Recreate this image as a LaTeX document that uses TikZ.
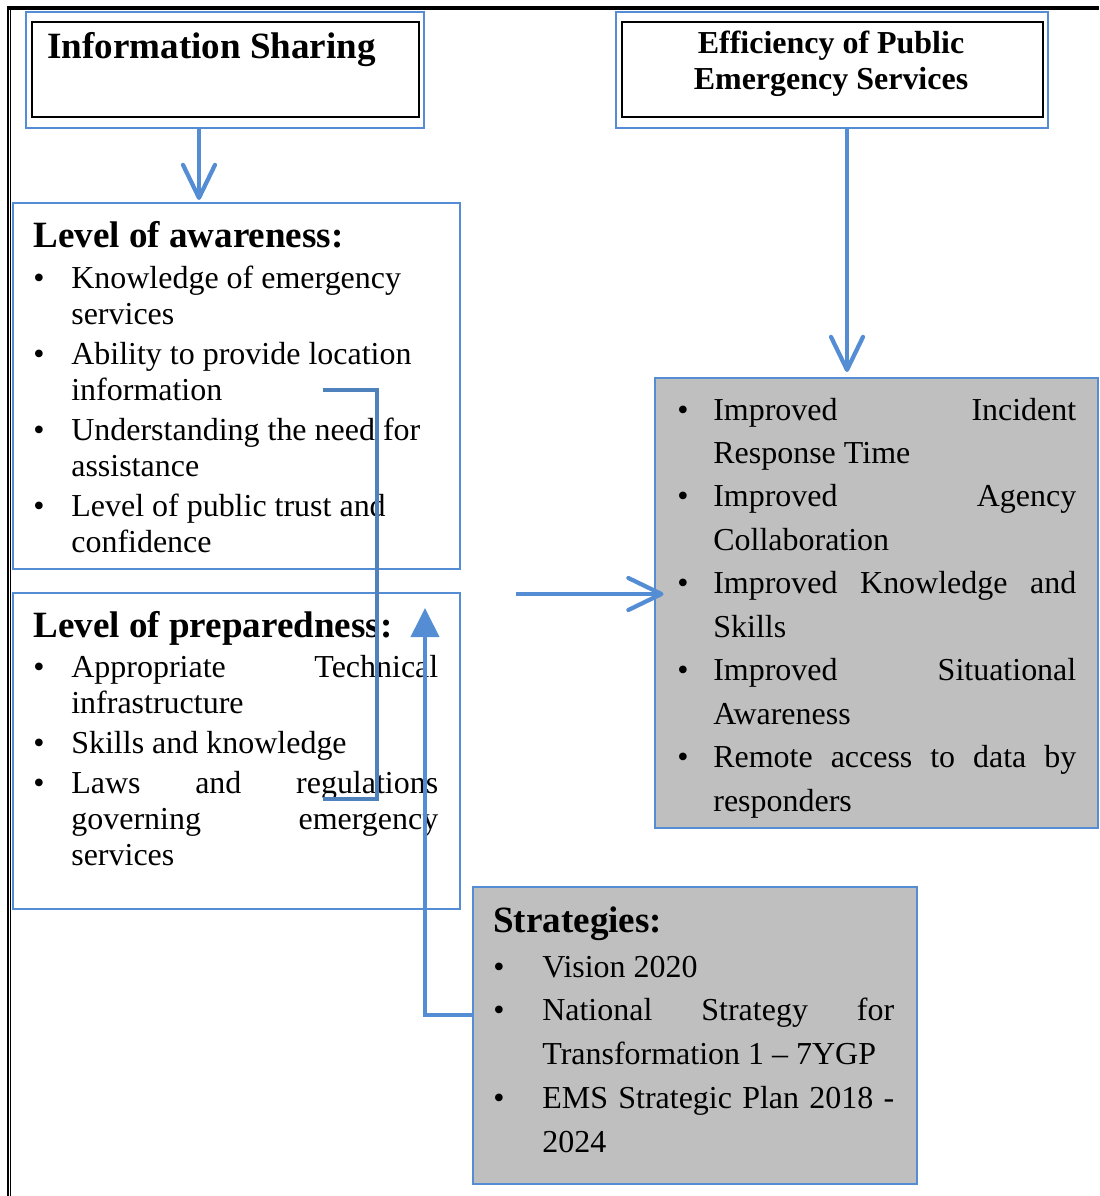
\documentclass[tikz,border=0pt]{standalone}
\usepackage{fontspec}
\setmainfont{Liberation Serif}
\usetikzlibrary{arrows.meta}

\definecolor{boxblue}{RGB}{84,141,212}
\definecolor{linkblue}{RGB}{79,129,189}
\definecolor{boxgrey}{RGB}{191,191,191}

\newlength\indw
\newlength\jw
\newcommand{\blt}{\makebox[\indw][l]{\textbullet}}
\newcommand{\cont}{\hspace*{\indw}}
\newcommand{\jline}[1]{\hbox to \jw{#1}}

\begin{document}
\begin{tikzpicture}[x=0.02cm, y=-0.02cm,
    bluebox/.style={draw=boxblue, line width=0.04cm, inner sep=0, anchor=north west},
    greybox/.style={bluebox, fill=boxgrey},
    blackbox/.style={draw=black, line width=0.045cm, inner sep=0, anchor=north west},
    head/.style={inner sep=0, anchor=base west, font={\fontsize{21.1}{25}\selectfont\bfseries}},
    list/.style n args={3}{inner sep=0, anchor=base west, align=left, text width=8.5cm,
        font={\fontsize{18.2}{#3}\selectfont},
        execute at begin node={\setlength\indw{#1}\setlength\jw{#2}\spaceskip=0.16cm plus 0.05cm minus 0.02cm}},
    flow/.style={draw=boxblue, line width=0.085cm, -{Straight Barb[round, length=0.66cm, width=0.64cm]}},
    rise/.style={draw=boxblue, line width=0.08cm, -{Triangle[length=0.58cm, width=0.56cm]}},
    bracket/.style={draw=linkblue, line width=0.09cm}]
    \useasboundingbox (0,0) rectangle (1099,1196);

    % page frame
    \draw[line width=0.08cm] (7,8) -- (1099,8);
    \draw[line width=0.05cm] (7.8,6) -- (7.8,1196);
    \draw[line width=0.025cm] (10.5,8) -- (10.5,1196);

    % top boxes
    \node[bluebox, minimum width=7.96cm, minimum height=2.32cm] (infoout) at (25,11) {};
    \node[blackbox, minimum width=7.74cm, minimum height=1.9cm] (info) at (31,21) {};
    \node[head] (infoT) at (47,59) {Information Sharing};

    \node[bluebox, minimum width=8.64cm, minimum height=2.32cm] (effout) at (615,11) {};
    \node[blackbox, minimum width=8.42cm, minimum height=1.9cm] (eff) at (621,21) {};
    \node[inner sep=0, anchor=base, align=center, font={\fontsize{18.2}{21}\selectfont\bfseries}] (effT) at (831,90) {Efficiency of Public\\Emergency Services};

    % left column
    \node[bluebox, minimum width=8.94cm, minimum height=7.32cm] (aware) at (12,202) {};
    \node[head] (awareT) at (33,247) {Level of awareness:};
    \node[list={0.76cm}{7.34cm}{20.5}] (awareL) at (33,288) {%
        \blt Knowledge of emergency\\
        \cont services\\[0.08cm]
        \blt Ability to provide location\\
        \cont information\\[0.08cm]
        \blt Understanding the need for\\
        \cont assistance\\[0.08cm]
        \blt Level of public trust and\\
        \cont confidence};

    \node[bluebox, minimum width=8.94cm, minimum height=6.32cm] (prep) at (12,592) {};
    \node[head] (prepT) at (33,637) {Level of preparedness:};
    \node[list={0.76cm}{7.34cm}{20.5}] (prepL) at (33,677) {%
        \blt\jline{Appropriate\hfill Technical}\\
        \cont infrastructure\\[0.08cm]
        \blt Skills and knowledge\\[0.08cm]
        \blt\jline{Laws\hfill and\hfill regulations}\\
        \cont\jline{governing\hfill emergency}\\
        \cont services};

    % right column
    \node[greybox, minimum width=8.86cm, minimum height=9cm] (outc) at (654,377) {};
    \node[list={0.72cm}{7.26cm}{24.75}] (outcL) at (677,420) {%
        \blt\jline{Improved\hfill Incident}\\
        \cont Response Time\\
        \blt\jline{Improved\hfill Agency}\\
        \cont Collaboration\\
        \blt\jline{Improved\hfill Knowledge\hfill and}\\
        \cont Skills\\
        \blt\jline{Improved\hfill Situational}\\
        \cont Awareness\\
        \blt\jline{Remote\hfill access\hfill to\hfill data\hfill by}\\
        \cont responders};

    \node[greybox, minimum width=8.88cm, minimum height=5.94cm] (strat) at (472,886) {};
    \node[head] (stratT) at (493,932) {Strategies:};
    \node[list={0.98cm}{7.04cm}{25}] (stratL) at (493,977) {%
        \blt Vision 2020\\
        \blt\jline{National\hfill Strategy\hfill for}\\
        \cont Transformation 1 -- 7YGP\\
        \blt\jline{EMS\hfill Strategic\hfill Plan\hfill 2018\hfill -}\\
        \cont 2024};

    % connectors
    \coordinate (a1) at (199,0);
    \coordinate (a2) at (847,0);
    \coordinate (rfrom) at (516,594);
    \coordinate (upfrom) at (472,1015);
    \coordinate (uptip) at (425,608);
    \coordinate (brtop) at (323,390);
    \coordinate (brbot) at (323,799);

    \draw[flow, shorten >=0.04cm] (infoout.south -| a1) -- (aware.north -| a1);
    \draw[flow, shorten >=0.1cm] (effout.south -| a2) -- (outc.north -| a2);
    \draw[flow, shorten >=-0.19cm] (rfrom) -- (rfrom -| outc.west);
    \draw[rise] (strat.west |- upfrom) -- (uptip |- upfrom) -- (uptip);
    \draw[bracket] (brtop) -- ++(54,0) |- (brbot);
\end{tikzpicture}
\end{document}
